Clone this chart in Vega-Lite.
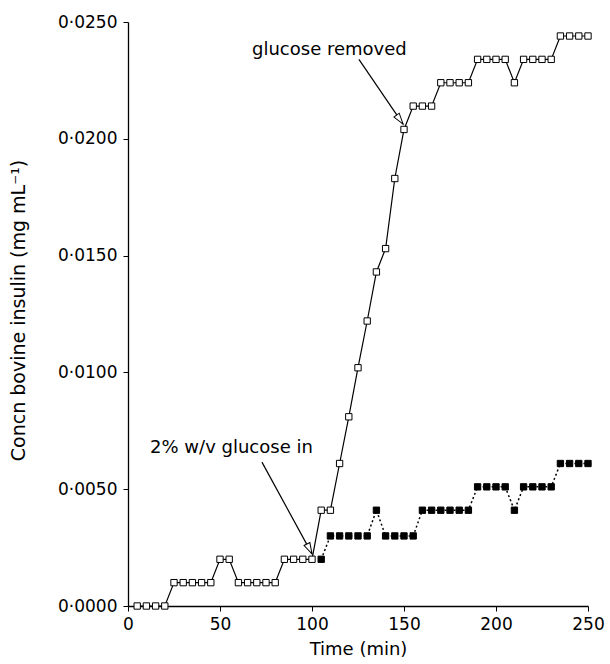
{
  "$schema": "https://vega.github.io/schema/vega-lite/v6.json",
  "width": 460,
  "height": 584,
  "autosize": {"type": "none"},
  "padding": {"left": 128, "top": 22, "right": 22, "bottom": 58},
  "background": "white",
  "config": {
    "view": {"stroke": null},
    "font": "DejaVu Sans",
    "axis": {
      "grid": false,
      "domainColor": "black",
      "domainWidth": 1.3,
      "tickColor": "black",
      "tickWidth": 1,
      "tickSize": 5,
      "labelColor": "black",
      "titleColor": "black",
      "labelFont": "DejaVu Sans",
      "titleFont": "DejaVu Sans",
      "labelFontSize": 17,
      "titleFontSize": 18,
      "titleFontWeight": "normal",
      "labelFlush": false,
      "labelOverlap": false
    }
  },
  "datasets": {
    "open": [
      {"t": 5, "c": 0}, {"t": 10, "c": 0}, {"t": 15, "c": 0}, {"t": 20, "c": 0},
      {"t": 25, "c": 0.001}, {"t": 30, "c": 0.001}, {"t": 35, "c": 0.001}, {"t": 40, "c": 0.001}, {"t": 45, "c": 0.001},
      {"t": 50, "c": 0.002}, {"t": 55, "c": 0.002},
      {"t": 60, "c": 0.001}, {"t": 65, "c": 0.001}, {"t": 70, "c": 0.001}, {"t": 75, "c": 0.001}, {"t": 80, "c": 0.001},
      {"t": 85, "c": 0.002}, {"t": 90, "c": 0.002}, {"t": 95, "c": 0.002}, {"t": 100, "c": 0.002},
      {"t": 105, "c": 0.0041}, {"t": 110, "c": 0.0041},
      {"t": 115, "c": 0.0061}, {"t": 120, "c": 0.0081}, {"t": 125, "c": 0.0102}, {"t": 130, "c": 0.0122},
      {"t": 135, "c": 0.0143}, {"t": 140, "c": 0.0153}, {"t": 145, "c": 0.0183}, {"t": 150, "c": 0.0204},
      {"t": 155, "c": 0.0214}, {"t": 160, "c": 0.0214}, {"t": 165, "c": 0.0214},
      {"t": 170, "c": 0.0224}, {"t": 175, "c": 0.0224}, {"t": 180, "c": 0.0224}, {"t": 185, "c": 0.0224},
      {"t": 190, "c": 0.0234}, {"t": 195, "c": 0.0234}, {"t": 200, "c": 0.0234}, {"t": 205, "c": 0.0234},
      {"t": 210, "c": 0.0224},
      {"t": 215, "c": 0.0234}, {"t": 220, "c": 0.0234}, {"t": 225, "c": 0.0234}, {"t": 230, "c": 0.0234},
      {"t": 235, "c": 0.0244}, {"t": 240, "c": 0.0244}, {"t": 245, "c": 0.0244}, {"t": 250, "c": 0.0244}
    ],
    "filled": [
      {"t": 105, "c": 0.002},
      {"t": 110, "c": 0.003}, {"t": 115, "c": 0.003}, {"t": 120, "c": 0.003}, {"t": 125, "c": 0.003}, {"t": 130, "c": 0.003},
      {"t": 135, "c": 0.0041},
      {"t": 140, "c": 0.003}, {"t": 145, "c": 0.003}, {"t": 150, "c": 0.003}, {"t": 155, "c": 0.003},
      {"t": 160, "c": 0.0041}, {"t": 165, "c": 0.0041}, {"t": 170, "c": 0.0041}, {"t": 175, "c": 0.0041}, {"t": 180, "c": 0.0041}, {"t": 185, "c": 0.0041},
      {"t": 190, "c": 0.0051}, {"t": 195, "c": 0.0051}, {"t": 200, "c": 0.0051}, {"t": 205, "c": 0.0051},
      {"t": 210, "c": 0.0041},
      {"t": 215, "c": 0.0051}, {"t": 220, "c": 0.0051}, {"t": 225, "c": 0.0051}, {"t": 230, "c": 0.0051},
      {"t": 235, "c": 0.0061}, {"t": 240, "c": 0.0061}, {"t": 245, "c": 0.0061}, {"t": 250, "c": 0.0061}
    ],
    "labels": [
      {"t": 67.4, "c": 0.02359, "label": "glucose removed"},
      {"t": 12, "c": 0.00655, "label": "2% w/v glucose in"}
    ],
    "arrowIn": [{"t": 72.8, "c": 0.00616, "t2": 100, "c2": 0.00223}],
    "arrowOut": [{"t": 125.5, "c": 0.0234, "t2": 149.5, "c2": 0.02063}]
  },
  "encoding": {
    "x": {
      "field": "t", "type": "quantitative",
      "scale": {"domain": [0, 250], "nice": false},
      "axis": {
        "values": [0, 50, 100, 150, 200, 250],
        "title": "Time (min)",
        "titleX": 230, "titleY": 43, "titleBaseline": "middle",
        "labelPadding": 5
      }
    },
    "y": {
      "field": "c", "type": "quantitative",
      "scale": {"domain": [0, 0.025], "nice": false},
      "axis": {
        "values": [0, 0.005, 0.01, 0.015, 0.02, 0.025],
        "labelExpr": "replace(format(datum.value, '.4f'), '.', '·')",
        "labelPadding": 6,
        "title": "Concn bovine insulin (mg mL⁻¹)",
        "titleFontSize": 19,
        "titleAngle": -90,
        "titleX": -110, "titleY": 288,
        "titleBaseline": "middle", "titleAlign": "center"
      }
    }
  },
  "layer": [
    {
      "data": {"name": "filled"},
      "mark": {"type": "line", "color": "black", "strokeWidth": 1.5, "strokeDash": [2, 2.5]}
    },
    {
      "data": {"name": "open"},
      "mark": {"type": "line", "color": "black", "strokeWidth": 1.2}
    },
    {
      "data": {"name": "filled"},
      "mark": {"type": "point", "shape": "square", "filled": true, "fill": "black", "stroke": "black", "strokeWidth": 1, "size": 40, "opacity": 1}
    },
    {
      "data": {"name": "open"},
      "mark": {"type": "point", "shape": "square", "filled": true, "fill": "white", "stroke": "black", "strokeWidth": 1, "size": 40, "opacity": 1}
    },
    {
      "data": {"name": "arrowIn"},
      "mark": {"type": "rule", "color": "black", "strokeWidth": 1.2},
      "encoding": {"x2": {"field": "t2"}, "y2": {"field": "c2"}}
    },
    {
      "data": {"name": "arrowOut"},
      "mark": {"type": "rule", "color": "black", "strokeWidth": 1.2},
      "encoding": {"x2": {"field": "t2"}, "y2": {"field": "c2"}}
    },
    {
      "data": {"name": "arrowIn"},
      "mark": {"type": "point", "shape": "M0,0 L-0.5,1.7 L0.5,1.7 Z", "filled": true, "fill": "white", "stroke": "black", "strokeWidth": 1, "size": 170, "angle": 153, "opacity": 1},
      "encoding": {"x": {"field": "t2", "type": "quantitative"}, "y": {"field": "c2", "type": "quantitative"}}
    },
    {
      "data": {"name": "arrowOut"},
      "mark": {"type": "point", "shape": "M0,0 L-0.5,1.7 L0.5,1.7 Z", "filled": true, "fill": "white", "stroke": "black", "strokeWidth": 1, "size": 170, "angle": 144, "opacity": 1},
      "encoding": {"x": {"field": "t2", "type": "quantitative"}, "y": {"field": "c2", "type": "quantitative"}}
    },
    {
      "data": {"name": "labels"},
      "mark": {"type": "text", "align": "left", "baseline": "alphabetic", "fontSize": 18, "font": "DejaVu Sans", "color": "black"},
      "encoding": {"text": {"field": "label"}}
    }
  ]
}
